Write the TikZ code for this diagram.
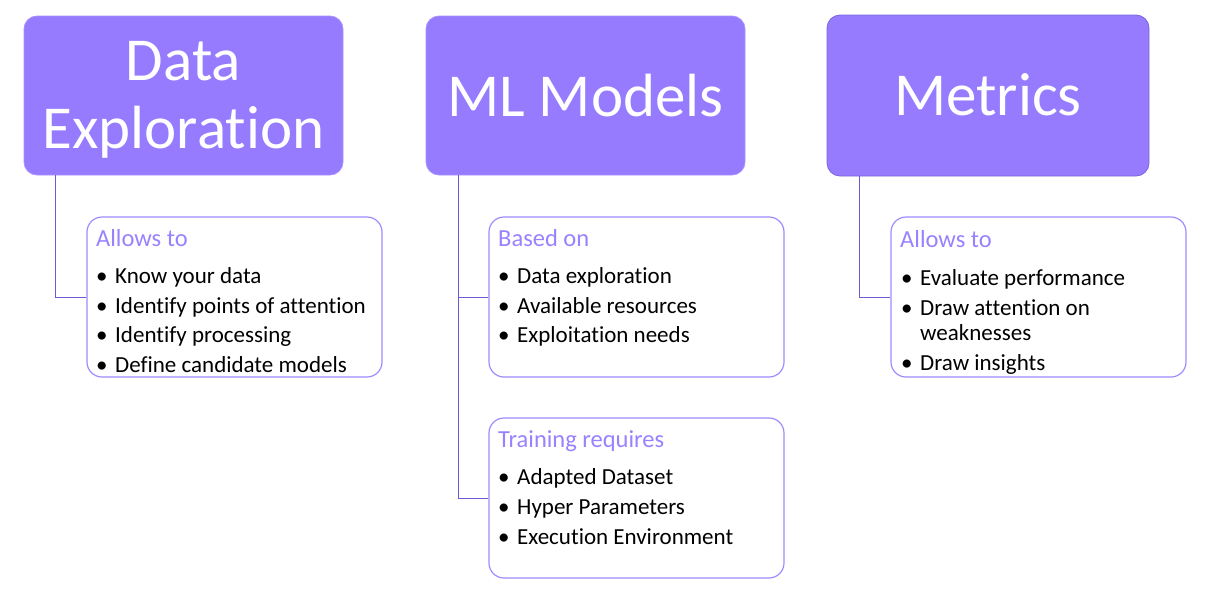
\documentclass[tikz,border=0pt]{standalone}
\usepackage{fontspec}
\setmainfont{Carlito}[RawFeature={-liga;-clig;-dlig;-calt;-hlig}]
\definecolor{headfill}{HTML}{977BFF}
\definecolor{headline}{HTML}{A791FF}
\definecolor{headlinedark}{HTML}{7A66DC}
\definecolor{subline}{HTML}{A08AFF}
\definecolor{subtext}{HTML}{9A82FF}
\definecolor{connline}{HTML}{6E5AD2}
\newcommand\bul{\makebox[19pt][l]{•}}
\begin{document}
\begin{tikzpicture}[x=1pt,y=-1pt,
  head/.style={draw=headline, fill=headfill, rounded corners=13pt, line width=0.8pt, inner sep=0, minimum width=319pt, minimum height=159pt},
  subbox/.style={draw=subline, fill=white, rounded corners=15pt, line width=1.2pt, inner sep=0, minimum width=295pt, minimum height=160pt},
  title/.style={text=white, font=\fontsize{61}{68}\selectfont, anchor=base, inner sep=0},
  subhead/.style={text=subtext, font=\fontsize{24.5}{29}\selectfont, anchor=base west, inner sep=0},
  item/.style={text=black, font=\fontsize{23}{28}\selectfont, anchor=base west, inner sep=0},
  conn/.style={draw=connline, line width=1pt}]
\useasboundingbox (0,0) rectangle (1216,595);

\node[head] (de) at (183.5,95.5) {};
\node[head] (ml) at (585.5,95.5) {};
\node[head, draw=headlinedark, minimum width=322pt, minimum height=161pt] (met) at (988,95.5) {};

\node[subbox] (des) at (234.5,297) {};
\node[subbox] (mls1) at (636.5,297) {};
\node[subbox] (mls2) at (636.5,498) {};
\node[subbox] (mets) at (1038.5,297) {};

\draw[conn] ([xshift=-128.5pt]de.south) |- (des.west);
\draw[conn] ([xshift=-127.5pt]ml.south) |- (mls1.west);
\draw[conn] ([xshift=-127.5pt]ml.south) |- (mls2.west);
\draw[conn] ([xshift=-129pt]met.south) |- (mets.west);

% titles
\node[title] (t1a) at (183.5,80) {Data};
\node[title] (t1b) at (183.5,148) {Exploration};
\node[title] (t2) at (585.5,116) {ML Models};
\node[title] (t3) at (988,115) {Metrics};

% Data exploration box
\node[subhead] (h1) at (96,246) {Allows to};
\node[item] (a1) at (96,283) {\bul Know your data};
\node[item] (a2) at (96,313) {\bul Identify points of attention};
\node[item] (a3) at (96,342) {\bul Identify processing};
\node[item] (a4) at (96,372) {\bul Define candidate models};

% ML box 1
\node[subhead] (h2) at (498,246) {Based on};
\node[item] (b1) at (498,283) {\bul Data exploration};
\node[item] (b2) at (498,313) {\bul Available resources};
\node[item] (b3) at (498,342) {\bul Exploitation needs};

% ML box 2
\node[subhead] (h3) at (498,447) {Training requires};
\node[item] (c1) at (498,484) {\bul Adapted Dataset};
\node[item] (c2) at (498,514) {\bul Hyper Parameters};
\node[item] (c3) at (498,544) {\bul Execution Environment};

% Metrics box
\node[subhead] (h4) at (900,247) {Allows to};
\node[item] (d1) at (901,285) {\bul Evaluate performance};
\node[item] (d2) at (901,315) {\bul Draw attention on};
\node[item] (d2b) at (920,340) {weaknesses};
\node[item] (d3) at (901,370) {\bul Draw insights};
\end{tikzpicture}
\end{document}
